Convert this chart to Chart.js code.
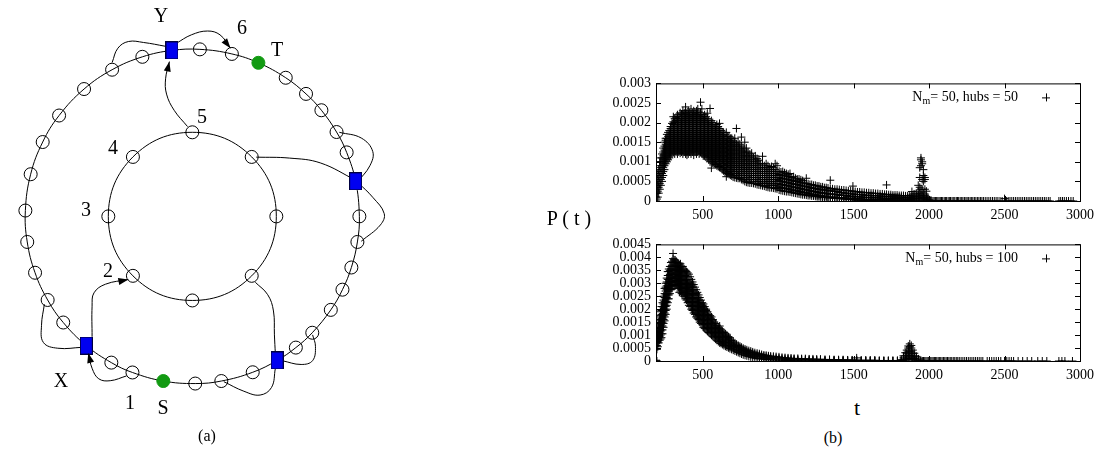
<!DOCTYPE html>
<html>
<head>
<meta charset="utf-8">
<script src="https://cdn.jsdelivr.net/npm/chart.js@4"></script>
<style>
  body { margin: 0; width: 1111px; height: 449px; position: relative; background: #fff; overflow: hidden;
         font-family: "Liberation Serif", "Times New Roman", serif; color: #000; }
  canvas { position: absolute; }
  .lbl { position: absolute; transform: translate(-50%, -50%); font-size: 20px; line-height: 1; white-space: nowrap; }
  .leg { position: absolute; font-size: 14px; line-height: 16px; white-space: nowrap; text-align: right; }
  .leg sub { font-size: 10px; vertical-align: -3px; line-height: 0; }
</style>
</head>
<body>
<canvas id="net" width="440" height="449" style="left:0;top:0"></canvas>
<canvas id="topPlot" width="520" height="155" style="left:580px;top:70px"></canvas>
<canvas id="botPlot" width="520" height="154" style="left:580px;top:231px"></canvas>

<div class="lbl" style="left:161px;top:15px">Y</div>
<div class="lbl" style="left:242px;top:27px">6</div>
<div class="lbl" style="left:277px;top:49px">T</div>
<div class="lbl" style="left:202px;top:116px">5</div>
<div class="lbl" style="left:113px;top:147px">4</div>
<div class="lbl" style="left:86px;top:209px">3</div>
<div class="lbl" style="left:108px;top:270px">2</div>
<div class="lbl" style="left:61px;top:380px">X</div>
<div class="lbl" style="left:130px;top:402px">1</div>
<div class="lbl" style="left:163px;top:407px">S</div>
<div class="lbl" style="left:207px;top:436px;font-size:16px">(a)</div>

<div class="lbl" style="left:569px;top:218px;font-size:20px">P ( t )</div>
<div class="lbl" style="left:857px;top:408px;font-size:22px">t</div>
<div class="lbl" style="left:833px;top:438px;font-size:16px">(b)</div>
<div class="leg" style="right:93px;top:89px">N<sub>m</sub>= 50, hubs = 50</div>
<div class="leg" style="right:93px;top:250px">N<sub>m</sub>= 50, hubs = 100</div>

<script>
// ---------- (a) network ----------
// node angles (degrees) on the outer and inner rings, clockwise from hub Y
const outerAngles = [97, 87.4, 76.3, 66.7, 56, 47.1, 39.4, 30.3, 22.5, 12.1, 0, -8.8, -17.8, -26, -34, -44.1,
  -51.7, -59.5, -68.8, -80, -89, -100, -111, -119, -129.4, -140.6, -150, -160.3, -171.2, 178, 165.4, 153.6,
  142.9, 130.4, 118.7, 107.4];
const innerAngles = [90, 45, 0, -45, -90, -135, 180, 135];
const hubIdx = [0, 9, 17, 24];      // blue squares (Y, right, bottom right, X)
const endIdx = [3, 21];             // green nodes T and S

// shortcut links, as way points in the drawing's units
const linkPaths = [
  [[163, 38], [140, 34], [124, 33], [113, 40], [107, 55]],
  [[174, 35], [190, 26], [207, 22], [220, 26], [231, 40]],
  [[186, 122], [172, 105], [164, 88], [163, 72], [167, 54]],
  [[258, 154], [293, 155], [325, 160], [362, 178]],
  [[345, 128], [368, 134], [380, 148], [377, 163], [364, 180]],
  [[365, 181], [380, 196], [392, 213], [388, 225], [368, 242]],
  [[257, 285], [270, 298], [276, 315], [277, 340], [278, 360]],
  [[285, 367], [305, 371], [317, 367], [320, 352], [317, 340]],
  [[278, 375], [274, 395], [262, 403], [245, 399], [224, 389]],
  [[76, 353], [50, 354], [35, 348], [33, 330], [36, 308]],
  [[86, 342], [86, 310], [88, 296], [100, 287], [124, 282]],
  [[122, 383], [105, 388], [93, 386], [86, 375], [82, 359]]
];
const arrowLinks = [1, 2, 10, 11];

// ---------- (b) P(t) ----------
const P_UNIT = 1e-4;
const xTicks = [500, 1000, 1500, 2000, 2500, 3000];
const xLabels = ['500', '1000', '1500', '2000', '2500', '3000'];
const topYTicks = [0, 0.0005, 0.001, 0.0015, 0.002, 0.0025, 0.003];
const topYLabels = ['0', '0.0005', '0.001', '0.0015', '0.002', '0.0025', '0.003'];
const botYTicks = [0, 0.0005, 0.001, 0.0015, 0.002, 0.0025, 0.003, 0.0035, 0.004, 0.0045];
const botYLabels = ['0', '0.0005', '0.001', '0.0015', '0.002', '0.0025', '0.003', '0.0035', '0.004', '0.0045'];

// each row: t, then the P(t) values read at that t, in units of 1e-4  (hubs = 50)
const topCols = [
  [190, 0, 1, 2], [196, 0.5, 2, 3.5, 5], [202, 1, 2.5, 4, 5.5, 7], [208, 2, 3.5, 5, 6.5, 8],
  [215, 3, 4.5, 6, 7.5, 9, 10], [222, 4, 5.5, 7, 8.5, 10, 11],
  [230, 5, 6, 7, 8, 9, 10, 11, 12], [238, 6.5, 7.5, 8.5, 9.5, 10.5, 11.5, 12.5, 13.5],
  [246, 8, 9, 10, 11, 12, 13, 14, 15], [254, 9.5, 10.5, 11.5, 12.5, 13.5, 14.5, 15.5, 16],
  [262, 10, 11, 12, 13, 14, 15, 16, 17], [270, 10.5, 11.5, 12.5, 13.5, 14.5, 15.5, 16.5, 17.5],
  [278, 11, 12, 13, 14, 15, 16, 17, 18], [287, 11.5, 12.5, 13.5, 14.5, 15.5, 16.5, 17.5, 18.5, 19],
  [296, 12, 13, 14, 15, 16, 17, 18, 19, 19.8], [305, 12.5, 13.5, 14.5, 15.5, 16.5, 17.5, 18.5, 19.5, 20.2, 21.5],
  [314, 12, 13, 14, 15, 16, 17, 18, 19, 20, 21], [323, 12.5, 13.5, 14.5, 15.5, 16.5, 17.5, 18.5, 19.5, 20.5, 21.4],
  [332, 12, 13, 14, 15, 16, 17, 18, 19, 20, 21, 22], [341, 12.5, 13.5, 14.5, 15.5, 16.5, 17.5, 18.5, 19.5, 20.5, 21.5],
  [350, 12.2, 13, 14, 15, 16, 17, 18, 19, 20, 21, 22.5],
  [359, 12.5, 13.5, 14.5, 15.5, 16.5, 17.5, 18.5, 19.5, 20.5, 21.5, 22.2],
  [368, 12, 13, 14, 15, 16, 17, 18, 19, 20, 21, 22, 23],
  [377, 12.5, 13.5, 14.5, 15.5, 16.5, 17.5, 18.5, 19.5, 20.5, 21.5, 22.5],
  [386, 12, 13, 14, 15, 16, 17, 18, 19, 20, 21, 22, 23, 24],
  [395, 11.7, 12.5, 13.5, 14.5, 15.5, 16.5, 17.5, 18.5, 19.5, 20.5, 21.5, 22.5],
  [404, 12, 13, 14, 15, 16, 17, 18, 19, 20, 21, 22, 23],
  [413, 12.5, 13.5, 14.5, 15.5, 16.5, 17.5, 18.5, 19.5, 20.5, 21.5, 22.5],
  [422, 12, 13, 14, 15, 16, 17, 18, 19, 20, 21, 22, 23.5],
  [431, 12.5, 13.5, 14.5, 15.5, 16.5, 17.5, 18.5, 19.5, 20.5, 21.5, 22.5],
  [440, 11.7, 13, 14, 15, 16, 17, 18, 19, 20, 21, 22, 23],
  [449, 12.5, 13.5, 14.5, 15.5, 16.5, 17.5, 18.5, 19.5, 20.5, 21.5, 22.5],
  [458, 12, 13, 14, 15, 16, 17, 18, 19, 20, 21, 22, 23],
  [467, 12.5, 13.5, 14.5, 15.5, 16.5, 17.5, 18.5, 19.5, 20.5, 21.5, 22.5, 23.5],
  [476, 12, 13, 14, 15, 16, 17, 18, 19, 20, 21, 22],
  [485, 12.5, 13.5, 14.5, 15.5, 16.5, 17.5, 18.5, 19.5, 20.5, 21.5, 22.5, 25.2],
  [494, 12, 13, 14, 15, 16, 17, 18, 19, 20, 21, 22, 23.5],
  [503, 11.5, 12.5, 13.5, 14.5, 15.5, 16.5, 17.5, 18.5, 19.5, 20.5, 21.5],
  [512, 11.5, 12, 13, 14, 15, 16, 17, 18, 19, 20, 21, 22],
  [521, 11.2, 12.5, 13.5, 14.5, 15.5, 16.5, 17.5, 18.5, 19.5, 20.5, 21.5],
  [530, 11, 12, 13, 14, 15, 16, 17, 18, 19, 20, 21, 22.4],
  [539, 10.5, 11.5, 12.5, 13.5, 14.5, 15.5, 16.5, 17.5, 18.5, 19.5, 20.5],
  [548, 10, 11, 12, 13, 14, 15, 16, 17, 18, 19, 20, 23.6],
  [557, 8.4, 10.5, 11.5, 12.5, 13.5, 14.5, 15.5, 16.5, 17.5, 18.5, 19.5, 20.5],
  [566, 9.7, 10, 11, 12, 13, 14, 15, 16, 17, 18, 19, 20],
  [575, 9.5, 10.5, 11.5, 12.5, 13.5, 14.5, 15.5, 16.5, 17.5, 18.5, 19.5],
  [584, 9.3, 10, 11, 12, 13, 14, 15, 16, 17, 18, 19],
  [593, 9, 10.5, 11.5, 12.5, 13.5, 14.5, 15.5, 16.5, 17.5, 18.5, 19.5],
  [602, 8.8, 10, 11, 12, 13, 14, 15, 16, 17, 18, 19],
  [611, 8.6, 9.5, 10.5, 11.5, 12.5, 13.5, 14.5, 15.5, 16.5, 17.5, 18.5, 19.8],
  [620, 8.4, 9, 10, 11, 12, 13, 14, 15, 16, 17, 18],
  [629, 8, 9.5, 10.5, 11.5, 12.5, 13.5, 14.5, 15.5, 16.5, 17.5],
  [638, 7.7, 8.5, 9.5, 10.5, 11.5, 12.5, 13.5, 14.5, 15.5, 16.5, 17.5],
  [647, 7.4, 8.5, 9, 10, 11, 12, 13, 14, 15, 16, 17],
  [656, 6.2, 7.2, 8, 9, 10, 11, 12, 13, 14, 15, 16, 17.5],
  [665, 7, 8.5, 9.5, 10.5, 11.5, 12.5, 13.5, 14.5, 15.5, 16.5],
  [674, 6.8, 7.5, 8.5, 9.5, 10.5, 11.5, 12.5, 13.5, 14.5, 15.5, 16.5],
  [683, 6.6, 7.5, 8, 9, 10, 11, 12, 13, 14, 15, 16],
  [692, 6.4, 7, 8, 9, 10, 11, 12, 13, 14, 15, 16],
  [701, 6.1, 7, 7.5, 8.5, 9.5, 10.5, 11.5, 12.5, 13.5, 14.5, 15.5],
  [712, 6, 7, 8, 9, 10, 11, 12, 13, 14, 15, 16],
  [723, 5.9, 6.5, 7.5, 8.5, 9.5, 10.5, 11.5, 12.5, 13.5, 14.5, 18.5],
  [734, 5.8, 6.5, 7, 8, 9, 10, 11, 12, 13, 14, 15],
  [745, 5.8, 6.5, 7.5, 8.5, 9.5, 10.5, 11.5, 12.5, 13.5, 14.5],
  [756, 5.5, 6, 7, 8, 9, 10, 11, 12, 13, 14, 16.3],
  [767, 5.3, 6.5, 7.5, 8.5, 9.5, 10.5, 11.5, 12.5, 13.5],
  [778, 5, 6, 7, 8, 9, 10, 11, 12, 13, 15],
  [789, 4.8, 5.5, 6.5, 7.5, 8.5, 9.5, 10.5, 11.5, 12.5, 13.5],
  [800, 4.7, 5.5, 6.5, 7.5, 8.5, 9.5, 10.5, 11.5, 12.5],
  [812, 4.6, 5.5, 6, 7, 8, 9, 10, 11, 12], [824, 4.6, 5.5, 6.5, 7.5, 8.5, 9.5, 10.5, 11.5, 12.2],
  [836, 4.5, 5, 6, 7, 8, 9, 10, 11], [848, 4.4, 5.5, 6.5, 7.5, 8.5, 9.5, 10.5, 11.5],
  [860, 4.2, 5, 6, 7, 8, 9, 10, 10.8], [872, 4.1, 5, 5.5, 6.5, 7.5, 8.5, 9.5, 10.4],
  [884, 4, 4.5, 5.5, 6.5, 7.5, 8.5, 9.5], [896, 3.9, 4.5, 5.5, 6.5, 7.5, 8.5, 9.5, 11.4],
  [908, 3.8, 4.5, 5, 6, 7, 8, 9], [920, 3.6, 4.5, 5.5, 6.5, 7.5, 8.5, 9.5], [932, 3.5, 4, 5, 6, 7, 8, 9],
  [944, 3.4, 4.5, 5.5, 6.5, 7.5, 8.5], [956, 3.4, 4, 5, 6, 7, 8, 8.8], [968, 3.3, 4, 4.5, 5.5, 6.5, 7.5, 8.5],
  [980, 3.2, 4, 5, 6, 7, 8, 9.5], [992, 3.1, 3.5, 4.5, 5.5, 6.5, 7.5, 9],
  [1006, 2.8, 3.6, 4.4, 5.2, 6, 6.8, 7.6], [1018, 2.7, 3.4, 4.2, 5, 5.8, 6.6, 7.4],
  [1030, 2.6, 3.4, 4.2, 5, 5.8, 6.6, 7.5], [1042, 2.5, 3.2, 4, 4.8, 5.6, 6.4, 7.2],
  [1054, 2.4, 3.2, 4, 4.8, 5.6, 6.4, 7], [1066, 2.4, 3, 3.8, 4.6, 5.4, 6.2, 6.8],
  [1078, 2.3, 3, 3.8, 4.6, 5.4, 6.2, 7], [1090, 2.2, 2.8, 3.6, 4.4, 5.2, 6], [1102, 2.1, 2.8, 3.6, 4.4, 5.2, 6.2],
  [1114, 2, 2.6, 3.4, 4.2, 5, 5.8], [1126, 1.9, 2.6, 3.4, 4.2, 5, 5.6], [1138, 1.8, 2.4, 3.2, 4, 4.8, 5.6],
  [1150, 1.7, 2.4, 3.2, 4, 4.8, 5.4], [1162, 1.6, 2.2, 3, 3.8, 4.6, 5.2], [1174, 1.6, 2.2, 3, 3.8, 4.6],
  [1186, 1.5, 2, 2.8, 3.6, 4.4, 5.8], [1198, 1.4, 2, 2.8, 3.6, 4.4], [1210, 1.4, 1.8, 2.6, 3.4, 4.2],
  [1222, 1.3, 1.8, 2.6, 3.4, 4.2], [1234, 1.3, 1.6, 2.4, 3.2, 4], [1246, 1.2, 1.6, 2.4, 3.2, 4],
  [1258, 1.1, 1.4, 2.2, 3, 3.8], [1270, 1.1, 1.4, 2.2, 3, 3.8], [1282, 1, 1.4, 2.2, 3, 3.6],
  [1294, 1, 1.2, 2, 2.8, 3.6], [1306, 0.9, 1.2, 2, 2.8, 3.4], [1318, 0.9, 1.2, 2, 2.8, 3.4],
  [1330, 0.8, 1, 1.8, 2.6, 3.3], [1345, 0.8, 1, 1.8, 2.6, 3.2, 5.3], [1360, 0.8, 1, 1.8, 2.6, 3.1],
  [1375, 0.7, 1, 1.6, 2.4, 3], [1390, 0.7, 0.9, 1.6, 2.4, 3], [1405, 0.6, 0.9, 1.6, 2.2, 2.9],
  [1420, 0.6, 0.8, 1.4, 2.2, 2.8], [1435, 0.5, 0.8, 1.4, 2, 2.8], [1450, 0.5, 0.8, 1.4, 2, 2.7],
  [1465, 0.4, 0.7, 1.2, 2, 2.6], [1480, 0.4, 0.7, 1.2, 1.8, 2.6], [1495, 0.3, 0.6, 1.2, 1.8, 2.5, 3.8],
  [1510, 0.3, 0.6, 1.1, 1.7, 2.4], [1525, 0.2, 0.6, 1.1, 1.7, 2.3], [1540, 0.2, 0.5, 1, 1.6, 2.3],
  [1555, 0.2, 0.5, 1, 1.6, 2.2], [1570, 0.2, 0.5, 1, 1.5, 2.2], [1585, 0.1, 0.4, 0.9, 1.5, 2.1],
  [1600, 0.1, 0.4, 0.9, 1.4, 2.1], [1615, 0.1, 0.4, 0.9, 1.4, 2], [1630, 0.1, 0.4, 0.8, 1.4, 2],
  [1645, 0, 0.4, 0.8, 1.3, 1.9], [1660, 0, 0.3, 0.8, 1.3, 1.9], [1675, 0, 0.3, 0.8, 1.3, 1.8],
  [1690, 0, 0.3, 0.7, 1.2, 1.8], [1705, 0, 0.3, 0.7, 1.2, 1.7], [1718, 0, 0.3, 0.7, 1.2, 1.7, 4.1],
  [1732, 0, 0.3, 0.7, 1.1, 1.6], [1746, 0, 0.3, 0.6, 1.1, 1.6], [1760, 0, 0.3, 0.6, 1.1, 1.5],
  [1774, 0, 0.2, 0.6, 1, 1.5], [1788, 0, 0.2, 0.6, 1, 1.5], [1802, 0, 0.2, 0.6, 1, 1.4],
  [1816, 0, 0.2, 0.5, 1, 1.4], [1830, 0, 0.2, 0.5, 1, 1.4], [1844, 0, 0.2, 0.5, 0.9, 1.3],
  [1858, 0, 0.2, 0.5, 0.9, 1.3], [1872, 0, 0.2, 0.5, 0.9, 1.4], [1886, 0, 0.3, 0.6, 1, 1.5, 2.4],
  [1900, 0, 0.3, 0.7, 1.2, 1.8], [1915, 0, 0.6, 1.2, 2], [1928, 0, 0.8, 1.5, 2.5, 4],
  [1938, 0, 1, 2, 3.5, 6, 8.5], [1946, 0.5, 1.5, 3, 9, 10.5, 11], [1954, 0.5, 1.5, 3, 5.5, 9.5, 10],
  [1962, 0, 1, 2, 5, 6.5, 8], [1972, 0, 0.5, 1.5, 3, 5.5, 6], [1982, 0, 0.5, 1, 2.5], [1992, 0, 0.5, 1],
  [2002, 0, 0.3], [2500, 0.6]
];
// t values where P(t) = 0 (hubs = 50)
const topZeroT = [2010, 2018, 2026, 2034, 2042, 2050, 2058, 2066, 2074, 2082, 2090, 2100, 2108, 2116, 2126,
  2134, 2142, 2152, 2160, 2170, 2180, 2188, 2196, 2206, 2216, 2224, 2234, 2244, 2252, 2262, 2272, 2282, 2290,
  2300, 2310, 2320, 2330, 2340, 2350, 2360, 2372, 2384, 2396, 2408, 2420, 2432, 2444, 2456, 2470, 2484, 2512,
  2524, 2536, 2548, 2560, 2572, 2584, 2596, 2608, 2620, 2632, 2644, 2656, 2668, 2680, 2692, 2704, 2716, 2728,
  2740, 2752, 2764, 2776, 2790, 2802, 2860, 2872, 2884, 2896, 2910, 2924, 2940, 2955];

// each row: t, then the P(t) values read at that t, in units of 1e-4  (hubs = 100)
const botCols = [
  [190, 0, 0.3], [196, 0, 4.5, 6, 7.5, 9, 10.5], [202, 5.5, 7, 8.5, 10, 11.5, 12.5],
  [208, 7, 8.5, 10, 11.5, 13, 14.5], [214, 8, 9.5, 11, 12.5, 14, 15.5, 17],
  [220, 8.5, 10, 11.5, 13, 14.5, 16, 17.5, 19], [226, 9, 10.5, 12, 13.5, 15, 16.5, 18, 19.5, 21],
  [233, 10.5, 12, 13.5, 15, 16.5, 18, 19.5, 21, 22.5], [240, 13, 14.5, 16, 17.5, 19, 20.5, 22, 23.5, 25],
  [247, 15.5, 17, 18.5, 20, 21.5, 23, 24.5, 26, 28], [254, 18, 19.5, 21, 22.5, 24, 25.5, 27, 28.5, 30],
  [261, 20, 21.5, 23, 24.5, 26, 27.5, 29, 30.5, 32], [268, 22.5, 24, 25.5, 27, 28.5, 30, 31.5, 33, 34.5],
  [275, 24, 25.5, 27, 28.5, 30, 31.5, 33, 34.5, 35.5], [282, 26, 27.5, 29, 30.5, 32, 33.5, 35, 36.5],
  [289, 27.5, 29, 30.5, 32, 33.5, 35, 36.5, 38], [296, 28, 29.5, 31, 32.5, 34, 35.5, 37, 38.5],
  [303, 29, 30.5, 32, 33.5, 35, 36.5, 38, 39.5, 41.5], [310, 29, 30.5, 32, 33.5, 35, 36.5, 38, 39],
  [317, 29, 30.5, 32, 33.5, 35, 36.5, 38, 39], [324, 29.5, 31, 32.5, 34, 35.5, 37, 38.5],
  [331, 29, 30.5, 32, 33.5, 35, 36.5, 38], [338, 28.5, 30, 31.5, 33, 34.5, 36, 37.5],
  [345, 26.5, 28, 29.5, 31, 32.5, 34, 35.5, 37], [352, 27, 28.5, 30, 31.5, 33, 34.5, 36, 37.5],
  [360, 26, 27.5, 29, 30.5, 32, 33.5, 35, 36.5], [368, 25.5, 27, 28.5, 30, 31.5, 33, 34.5, 36.5],
  [376, 25, 26.5, 28, 29.5, 31, 32.5, 34, 35.5], [384, 24, 25.5, 27, 28.5, 30, 31.5, 33, 35],
  [392, 23.5, 25, 26.5, 28, 29.5, 31, 32.5, 34.5], [400, 22.5, 24, 25.5, 27, 28.5, 30, 31.5, 34],
  [408, 21.5, 23, 24.5, 26, 27.5, 29, 30.5, 33.5], [416, 21, 22.5, 24, 25.5, 27, 28.5, 30, 32.5],
  [424, 20, 21.5, 23, 24.5, 26, 27.5, 29, 31.5], [432, 19.5, 21, 22.5, 24, 25.5, 27, 28.5, 30.5],
  [440, 18.5, 20, 21.5, 23, 24.5, 26, 27.5, 29.5], [448, 18, 19.5, 21, 22.5, 24, 25.5, 28.5],
  [456, 17, 18.5, 20, 21.5, 23, 24.5, 26, 27.5], [464, 16.5, 18, 19.5, 21, 22.5, 24, 26.5],
  [472, 16, 17.5, 19, 20.5, 22, 23.5, 25.5], [480, 15, 16.5, 18, 19.5, 21, 22.5, 24.5],
  [488, 14.5, 16, 17.5, 19, 20.5, 22, 23.5], [496, 14, 15.5, 17, 18.5, 20, 21.5, 22.5],
  [504, 13, 14.5, 16, 17.5, 19, 20.5, 22], [513, 12.5, 14, 15.5, 17, 18.5, 20, 21],
  [522, 12, 13.5, 15, 16.5, 18, 19.5, 20], [531, 11.5, 13, 14.5, 16, 17.5, 19],
  [540, 11, 12.5, 14, 15.5, 17, 18], [549, 10.5, 12, 13.5, 15, 16.5, 17.5], [558, 10, 11.5, 13, 14.5, 16, 17],
  [567, 9.5, 11, 12.5, 14, 15.5, 16], [576, 9, 10.5, 12, 13.5, 15], [585, 8.5, 10, 11.5, 13, 14.5],
  [594, 8, 9.5, 11, 12.5, 13.8], [603, 7.5, 9, 10.5, 12, 13], [612, 7, 8.5, 10, 11.5, 12.5, 13.5],
  [621, 6.8, 8, 9.5, 11, 12], [630, 6.4, 7.5, 9, 10.5, 11.5], [640, 6, 7.2, 8.5, 10, 11],
  [650, 5.7, 7, 8.2, 9.5, 10.5], [660, 5.4, 6.6, 7.8, 9, 10], [670, 5.1, 6.2, 7.4, 8.6, 9.4],
  [680, 4.8, 6, 7.2, 8.4, 9], [691, 4.5, 5.6, 6.8, 7.9], [702, 4.2, 5.3, 6.4, 7.4], [713, 3.9, 5, 6, 7],
  [724, 3.6, 4.6, 5.6, 6.5], [735, 3.3, 4.3, 5.3, 6], [746, 3, 4, 5, 5.7], [757, 2.7, 3.7, 4.6, 5.3],
  [768, 2.4, 3.4, 4.3, 4.9], [780, 2.2, 3.1, 4, 4.6], [792, 2, 2.9, 3.7, 4.3], [805, 1.8, 2.6, 3.4, 4],
  [818, 1.6, 2.4, 3.2, 3.8], [831, 1.4, 2.2, 3, 3.5], [845, 1.2, 2, 2.7, 3.2], [860, 1, 1.8, 2.5, 3],
  [875, 0.9, 1.6, 2.3, 2.8], [890, 0.8, 1.5, 2.1, 2.5], [905, 0.7, 1.3, 1.9, 2.3], [920, 0.6, 1.2, 1.8, 2.2],
  [935, 0.5, 1.1, 1.7, 2], [950, 0.5, 1, 1.5, 1.9], [968, 0.4, 0.9, 1.4, 1.8], [986, 0.4, 0.8, 1.3, 1.7],
  [1005, 0.3, 0.8, 1.2, 1.6], [1025, 0.3, 0.7, 1.1, 1.4], [1045, 0.2, 0.6, 1, 1.3], [1065, 0.2, 0.6, 0.9, 1.2],
  [1085, 0.2, 0.5, 0.9, 1.1], [1105, 0.1, 0.5, 0.8, 1], [1130, 0.1, 0.4, 0.7, 1], [1155, 0.1, 0.4, 0.7, 0.9],
  [1180, 0, 0.4, 0.6, 0.9], [1205, 0, 0.3, 0.6, 0.8], [1230, 0, 0.3, 0.5, 0.8], [1255, 0, 0.3, 0.5, 0.7],
  [1280, 0, 0.3, 0.5, 0.7], [1310, 0, 0.2, 0.4, 0.6], [1340, 0, 0.2, 0.4, 0.6], [1370, 0, 0.2, 0.4, 0.5],
  [1400, 0, 0.2, 0.3, 0.5], [1430, 0, 0.2, 0.3, 0.5], [1460, 0, 0.1, 0.3, 0.4], [1490, 0, 0.1, 0.3, 0.4],
  [1520, 0, 0.1, 0.2, 0.4, 1.2], [1550, 0, 0.1, 0.2, 0.3], [1580, 0, 0.1, 0.2, 0.3], [1610, 0, 0.1, 0.2, 0.3],
  [1640, 0, 0.1, 0.2, 0.3], [1670, 0, 0.1, 0.2], [1700, 0, 0.1, 0.2], [1730, 0, 0.1, 0.2], [1760, 0, 0.1, 0.2],
  [1790, 0, 0.1, 0.2], [1815, 0, 0.2, 0.5], [1830, 0, 0.5, 1.2, 2], [1842, 0, 0.8, 2, 3.2],
  [1852, 0.5, 1.5, 2.8, 4.2], [1862, 1, 2, 3.5, 5, 5.8], [1872, 1, 2.2, 3.8, 5.5, 6.6],
  [1882, 0.8, 2, 3.5, 5, 6], [1892, 0.5, 1.5, 3, 4.2], [1902, 0, 1, 2, 3], [1915, 0, 0.5, 1.2, 1.8],
  [1930, 0, 0.3, 0.8], [1945, 0, 0.3]
];
// t values where P(t) = 0 (hubs = 100)
const botZeroT = [1955, 1963, 1971, 1979, 1987, 1995, 2003, 2011, 2019, 2027, 2035, 2043, 2051, 2060, 2068,
  2077, 2086, 2095, 2104, 2113, 2122, 2131, 2140, 2150, 2160, 2170, 2180, 2190, 2200, 2212, 2224, 2236, 2248,
  2260, 2272, 2284, 2296, 2308, 2320, 2332, 2344, 2356, 2385, 2400, 2415, 2430, 2445, 2460, 2475, 2500, 2515,
  2530, 2545, 2560, 2590, 2620, 2650, 2680, 2720, 2750, 2780, 2860, 2880, 2900, 2950];

// ---------- drawing ----------
const serif = '"Liberation Serif", "Times New Roman", serif';
const tickFont = { family: serif, size: 14 };
const cx = 191, cy = 216, outerRadius = 175, innerRadius = 88;

function onRing(a, r) {
  const rad = a * Math.PI / 180;
  return { x: cx + r * Math.cos(rad), y: cy - r * Math.sin(rad) };
}

// closed ring: repeat neighbours at both ends so the curve is smooth, then hide the extra pieces
function ringDataset(pts) {
  const n = pts.length;
  const loop = [pts[n - 1], ...pts, pts[0], pts[1]];
  return {
    data: loop, showLine: true, tension: 0.4, pointRadius: 0, borderColor: '#000', borderWidth: 1,
    clip: false, order: 3,
    segment: { borderColor: c => (c.p0DataIndex === 0 || c.p0DataIndex === n + 1) ? 'rgba(0,0,0,0)' : '#000' }
  };
}

function hubImage() {
  const c = document.createElement('canvas');
  c.width = 13; c.height = 18;
  const g = c.getContext('2d');
  g.fillStyle = '#0000f0';
  g.fillRect(0, 0, 13, 18);
  g.strokeStyle = '#000040';
  g.strokeRect(0.5, 0.5, 12, 17);
  return c;
}

const arrowPlugin = {
  id: 'arrows',
  afterDatasetsDraw(chart) {
    const ctx = chart.ctx;
    chart.data.datasets.forEach((ds, i) => {
      if (!ds.arrow) return;
      const pts = chart.getDatasetMeta(i).data;
      const a = pts[pts.length - 2], b = pts[pts.length - 1];
      const ang = Math.atan2(b.y - a.y, b.x - a.x);
      ctx.save();
      ctx.translate(b.x, b.y);
      ctx.rotate(ang);
      ctx.beginPath();
      ctx.moveTo(0, 0);
      ctx.lineTo(-10, -3.5);
      ctx.lineTo(-10, 3.5);
      ctx.closePath();
      ctx.fillStyle = '#000';
      ctx.fill();
      ctx.restore();
    });
  }
};

const outerPts = outerAngles.map(a => onRing(a, outerRadius));
const innerPts = innerAngles.map(a => onRing(a, innerRadius));
const plainOuter = outerPts.filter((p, i) => !hubIdx.includes(i) && !endIdx.includes(i));

const netSets = [
  { data: hubIdx.map(i => outerPts[i]), pointStyle: hubImage(), pointRadius: 9, clip: false, order: 0 },
  { data: endIdx.map(i => outerPts[i]), pointStyle: 'circle', pointRadius: 6.5, backgroundColor: '#129a12',
    borderColor: '#129a12', borderWidth: 1, clip: false, order: 0 },
  { data: plainOuter.concat(innerPts), pointStyle: 'circle', pointRadius: 6.5, backgroundColor: 'rgba(0,0,0,0)',
    borderColor: '#000', borderWidth: 1, clip: false, order: 1 },
  ringDataset(outerPts),
  ringDataset(innerPts)
];
linkPaths.forEach((path, i) => {
  netSets.push({
    data: path.map(([x, y]) => ({ x, y })), showLine: true, tension: 0.4, pointRadius: 0,
    borderColor: '#000', borderWidth: 1, clip: false, order: 2, arrow: arrowLinks.includes(i)
  });
});

new Chart(document.getElementById('net'), {
  type: 'scatter',
  data: { datasets: netSets },
  options: {
    responsive: false, animation: false, events: [],
    layout: { padding: 0 },
    plugins: { legend: { display: false }, tooltip: { enabled: false } },
    scales: {
      x: { type: 'linear', min: 0, max: 440, display: false },
      y: { type: 'linear', min: 0, max: 449, reverse: true, display: false }
    }
  },
  plugins: [arrowPlugin]
});

// gnuplot style frame with inward ticks on all four sides, plus the key sample
const framePlugin = {
  id: 'frame',
  afterDraw(chart) {
    const { ctx, chartArea: a, scales: { x, y } } = chart;
    ctx.save();
    ctx.strokeStyle = '#000';
    ctx.lineWidth = 1;
    ctx.strokeRect(a.left + 0.5, a.top + 0.5, a.right - a.left, a.bottom - a.top);
    ctx.beginPath();
    x.ticks.forEach(t => {
      const px = Math.round(x.getPixelForValue(t.value)) + 0.5;
      ctx.moveTo(px, a.bottom); ctx.lineTo(px, a.bottom - 5);
      ctx.moveTo(px, a.top); ctx.lineTo(px, a.top + 5);
    });
    y.ticks.forEach(t => {
      const py = Math.round(y.getPixelForValue(t.value)) + 0.5;
      ctx.moveTo(a.left, py); ctx.lineTo(a.left + 5, py);
      ctx.moveTo(a.right, py); ctx.lineTo(a.right - 5, py);
    });
    const kx = a.right - 34, ky = a.top + 14;
    ctx.moveTo(kx - 4, ky + 0.5); ctx.lineTo(kx + 4, ky + 0.5);
    ctx.moveTo(kx + 0.5, ky - 4); ctx.lineTo(kx + 0.5, ky + 4);
    ctx.stroke();
    ctx.restore();
  }
};

function pointsFrom(cols, zeros) {
  const pts = [];
  cols.forEach(([t, ...vals]) => vals.forEach(v => pts.push({ x: t, y: v * P_UNIT })));
  zeros.forEach(t => pts.push({ x: t, y: 0 }));
  return pts;
}

function makePlot(id, pts, yTicks, yLabels) {
  return new Chart(document.getElementById(id), {
    type: 'scatter',
    data: { datasets: [{ data: pts, pointStyle: 'cross', pointRadius: 4, borderColor: '#000', borderWidth: 1 }] },
    options: {
      responsive: false, animation: false, events: [],
      layout: { padding: { top: 13, right: 19, left: 0, bottom: 0 } },
      plugins: { legend: { display: false }, tooltip: { enabled: false } },
      scales: {
        x: {
          type: 'linear', min: 190, max: 3000,
          grid: { display: false, drawTicks: false }, border: { display: false },
          afterBuildTicks: s => { s.ticks = xTicks.map(v => ({ value: v })); },
          afterFit: s => { s.height = 24; },
          ticks: { callback: v => xLabels[xTicks.indexOf(v)], font: tickFont, color: '#000', padding: 6,
                   maxRotation: 0, autoSkip: false }
        },
        y: {
          type: 'linear', min: 0, max: yTicks[yTicks.length - 1],
          grid: { display: false, drawTicks: false }, border: { display: false },
          afterBuildTicks: s => { s.ticks = yTicks.map(v => ({ value: v })); },
          afterFit: s => { s.width = 76; },
          ticks: { callback: v => yLabels[yTicks.indexOf(v)], font: tickFont, color: '#000', padding: 5, autoSkip: false }
        }
      }
    },
    plugins: [framePlugin]
  });
}

makePlot('topPlot', pointsFrom(topCols, topZeroT), topYTicks, topYLabels);
makePlot('botPlot', pointsFrom(botCols, botZeroT), botYTicks, botYLabels);
</script>
</body>
</html>
